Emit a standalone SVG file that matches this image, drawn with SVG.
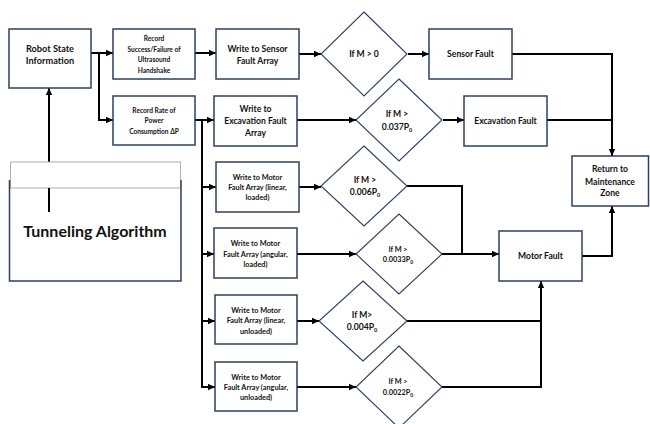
<svg xmlns="http://www.w3.org/2000/svg" width="650" height="424" viewBox="0 0 650 424">
<defs>
<marker id="ah" markerUnits="userSpaceOnUse" markerWidth="8" markerHeight="8" refX="7" refY="4" orient="auto">
<path d="M0,0.8 L7,4 L0,7.2 Z" fill="#000"/>
</marker>
<style>
.box{fill:#fff;stroke:#2f3f5f;stroke-width:1.5}
.dia{fill:#fff;stroke:#2f3f5f;stroke-width:1.1}
.c{fill:none;stroke:#000;stroke-width:2}
.a{marker-end:url(#ah)}
text{font-family:Lato,"Liberation Sans",sans-serif;font-weight:700;fill:#111;text-anchor:middle}
.s9{font-size:9.2px}.s8{font-size:8.6px}.s7{font-size:7.3px}.s65{font-size:6.6px}
</style>
</defs>
<rect width="650" height="424" fill="#fff"/>
<g id="connectors">
<path class="c a" d="M91,53 H113"/>
<path class="c a" d="M99,53 V120 H113"/>
<path class="c a" d="M195,53 H216"/>
<path class="c a" d="M299,54 H321"/>
<path class="c a" d="M408,54 H429"/>
<path class="c" d="M512,54 H612 V120"/>
<path class="c a" d="M612,118 V156"/>
<path class="c a" d="M195,120 H214"/>
<path class="c a" d="M297,120 H356"/>
<path class="c a" d="M443,120 H464"/>
<path class="c" d="M547,120 H612"/>
<path class="c a" d="M202,120 V387 H215"/>
<path class="c a" d="M202,187 H216"/>
<path class="c a" d="M202,254 H214"/>
<path class="c a" d="M202,321 H215"/>
<path class="c a" d="M299,187 H321"/>
<path class="c" d="M407,186 H462 V254"/>
<path class="c a" d="M297,254 H356"/>
<path class="c a" d="M442,254 H499"/>
<path class="c a" d="M297,321 H319"/>
<path class="c" d="M407,321 H541"/>
<path class="c a" d="M297,387 H356"/>
<path class="c a" d="M442,387 H541 V281"/>
<path class="c a" d="M582,256 H612 V206"/>
<path class="c a" d="M49,212 V88"/>
</g>
<g id="tunneling">
<rect x="10.5" y="162" width="170" height="26" fill="#fff" stroke="#b0b0b0" stroke-width="1"/>
<path d="M9.5,180 V281 H181 V180" fill="none" stroke="#2f3f5f" stroke-width="1.5"/>
<path class="c" d="M49,188 V212"/>
<text x="95" y="237" style="font-size:16px">Tunneling Algorithm</text>
</g>
<g id="robot-state">
<rect class="box" x="9" y="29" width="82" height="59"/>
<text class="s9" x="50" y="52">Robot State</text>
<text class="s9" x="50" y="64">Information</text>
</g>
<g id="record-success">
<rect class="box" x="113" y="29" width="82" height="50"/>
<text class="s65" x="154" y="41">Record</text>
<text class="s65" x="154" y="51.5">Success/Failure of</text>
<text class="s65" x="154" y="62">Ultrasound</text>
<text class="s65" x="154" y="72.5">Handshake</text>
</g>
<g id="record-rate">
<rect class="box" x="113" y="96" width="82" height="49"/>
<text class="s65" x="154" y="112.5">Record Rate of</text>
<text class="s65" x="154" y="123">Power</text>
<text class="s65" x="154" y="133.5">Consumption ΔP</text>
</g>
<g id="write-sensor">
<rect class="box" x="216" y="29" width="83" height="50"/>
<text class="s8" x="257.5" y="52">Write to Sensor</text>
<text class="s8" x="257.5" y="64">Fault Array</text>
</g>
<g id="write-excavation">
<rect class="box" x="214" y="96" width="83" height="50"/>
<text class="s8" x="255.5" y="112">Write to</text>
<text class="s8" x="255.5" y="124">Excavation Fault</text>
<text class="s8" x="255.5" y="136">Array</text>
</g>
<g id="dec-sensor">
<polygon class="dia" points="364,12 407,54 364,96 321,54"/>
<text class="s8" x="364" y="57">If M &gt; 0</text>
</g>
<g id="dec-excavation">
<polygon class="dia" points="399,79 442,120 399,161 356,120"/>
<text class="s8" x="397" y="117">If M &gt;</text>
<text class="s8" x="397" y="130">0.037P<tspan font-size="5.5" dy="2">0</tspan></text>
</g>
<g id="sensor-fault">
<rect class="box" x="429" y="29" width="83" height="50"/>
<text class="s8" x="470.5" y="57">Sensor Fault</text>
</g>
<g id="excavation-fault">
<rect class="box" x="464" y="96" width="83" height="50"/>
<text class="s8" x="505.5" y="124">Excavation Fault</text>
</g>
<g id="motor-lin-loaded">
<rect class="box" x="216" y="162" width="83" height="50"/>
<text class="s7" x="257.5" y="179.5">Write to Motor</text>
<text class="s7" x="257.5" y="189.5">Fault Array (linear,</text>
<text class="s7" x="257.5" y="199.5">loaded)</text>
</g>
<g id="motor-ang-loaded">
<rect class="box" x="214" y="228" width="83" height="50"/>
<text class="s7" x="255.5" y="245.5">Write to Motor</text>
<text class="s7" x="255.5" y="256.5">Fault Array (angular,</text>
<text class="s7" x="255.5" y="267">loaded)</text>
</g>
<g id="motor-lin-unloaded">
<rect class="box" x="215" y="295" width="82" height="49"/>
<text class="s7" x="256" y="312.5">Write to Motor</text>
<text class="s7" x="256" y="322.5">Fault Array (linear,</text>
<text class="s7" x="256" y="333.5">unloaded)</text>
</g>
<g id="motor-ang-unloaded">
<rect class="box" x="215" y="362" width="82" height="49"/>
<text class="s7" x="256" y="379.5">Write to Motor</text>
<text class="s7" x="256" y="389.5">Fault Array (angular,</text>
<text class="s7" x="256" y="400">unloaded)</text>
</g>
<g id="dec-006">
<polygon class="dia" points="364,146 407,186 364,226 321,186"/>
<text class="s8" x="365" y="183">If M &gt;</text>
<text class="s8" x="365" y="195">0.006P<tspan font-size="5.5" dy="2">0</tspan></text>
</g>
<g id="dec-0033">
<polygon class="dia" points="399,214 442,254 399,294 356,254"/>
<text class="s7" x="398" y="251.5">If M &gt;</text>
<text class="s7" x="398" y="262">0.0033P<tspan font-size="5" dy="2">0</tspan></text>
</g>
<g id="dec-004">
<polygon class="dia" points="363,281 407,321 363,361 319,321"/>
<text class="s8" x="362" y="318">If M&gt;</text>
<text class="s8" x="362" y="330">0.004P<tspan font-size="5.5" dy="2">0</tspan></text>
</g>
<g id="dec-0022">
<polygon class="dia" points="399,346 442,387 399,428 356,387"/>
<text class="s7" x="398" y="383.5">If M &gt;</text>
<text class="s7" x="398" y="394.5">0.0022P<tspan font-size="5" dy="2">0</tspan></text>
</g>
<g id="motor-fault">
<rect class="box" x="499" y="231" width="83" height="50"/>
<text class="s8" x="540.5" y="259">Motor Fault</text>
</g>
<g id="return-zone">
<rect class="box" x="572" y="156" width="76.5" height="50"/>
<text class="s8" x="610" y="172">Return to</text>
<text class="s8" x="610" y="184.5">Maintenance</text>
<text class="s8" x="610" y="196">Zone</text>
</g>
</svg>
